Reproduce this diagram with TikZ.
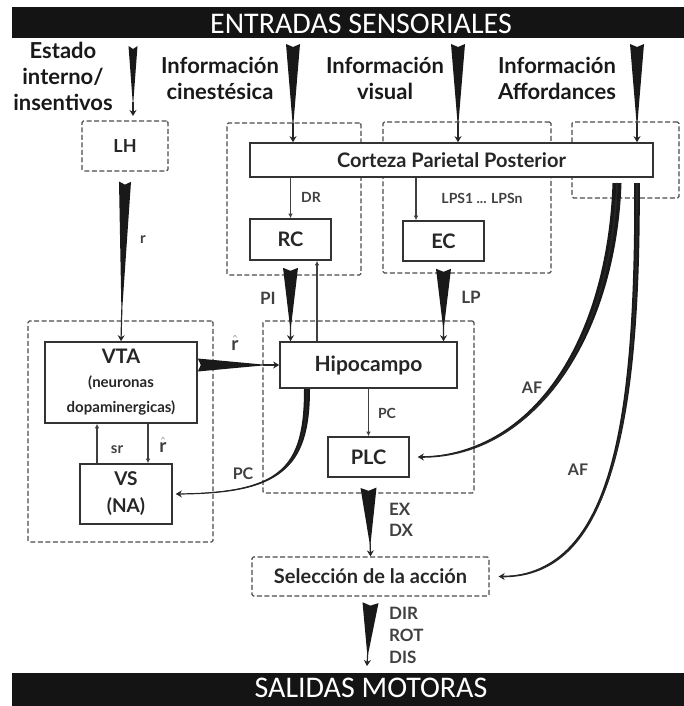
\documentclass[tikz,border=0pt]{standalone}
\usepackage{fontspec}
\setmainfont{Lato}
\newfontfamily\barfont{Carlito}
\usetikzlibrary{positioning, arrows.meta, calc}
\newcommand{\fs}[2]{\fontsize{#1}{#2}\selectfont}
\newcommand{\rhat}{$\hat{\mbox{\bfseries r}}$}
\newcommand{\wedgeflow}[3]{%
  \fill[black!90] ($(#1)!#3!90:(#2)$) -- ($(#1)!3pt!(#2)$) -- ($(#1)!#3!-90:(#2)$)
    -- ($(#1)!0.86!(#2)$) -- cycle;
  \draw[tip] ($(#1)!0.8!(#2)$) -- (#2);}
\tikzset{
  blk/.style={draw=black!80, line width=1.6pt, fill=white, align=center, inner sep=0pt,
    font=\bfseries\fs{20}{24}, text=black!85},
  grp/.style={draw=black!70, line width=1.3pt, dash pattern=on 5pt off 2.5pt,
    rounded corners=1.5pt, inner sep=0pt, align=center, font=\bfseries\fs{20}{24}, text=black!85},
  lbl/.style={font=\bfseries\fs{15}{19}, text=black!75, inner sep=0pt, align=left},
  hdr/.style={font=\bfseries\fs{22}{26}, align=center, text=black!90, inner sep=0pt},
  bar/.style={fill=black!92, draw=none, inner sep=0pt},
  bartxt/.style={font=\barfont\fs{30}{30}, text=white, inner sep=0pt},
  thin/.style={-{Latex[length=4.5pt,width=4.5pt]}, line width=1.2pt, draw=black!75},
  tip/.style={-{Stealth[length=6pt,width=7pt]}, line width=1.2pt, draw=black!85}
}

\begin{document}
\begin{tikzpicture}[x=1pt, y=-1pt]
\useasboundingbox (0,0) rectangle (684,706);
% black bars
\node[bar, minimum width=672pt, minimum height=31pt] (entbar) at (348,23) {};
\node[bartxt] (enttxt) at (361,24) {ENTRADAS SENSORIALES};
\node[bar, minimum width=672pt, minimum height=33pt] (salbar) at (348,689.5) {};
\node[bartxt] (saltxt) at (371,688) {SALIDAS MOTORAS};

% input headings
\node[hdr] (estado) at (63,76) {Estado\\interno/\\insentivos};
\node[hdr] (cine) at (220,78) {Información\\cinestésica};
\node[hdr] (visu) at (385,78) {Información\\visual};
\node[hdr] (affo) at (557,78) {Información\\Affordances};

% dashed groups
\node[grp, minimum width=86pt, minimum height=50pt, font=\bfseries\fs{18}{22}] (lh) at (125,146) {LH};
\node[grp, minimum width=134pt, minimum height=152pt] (grpkin) at (294,199) {};
\node[grp, minimum width=168pt, minimum height=151pt] (grpvis) at (467,197.5) {};
\node[grp, minimum width=107pt, minimum height=76pt] (grpaff) at (625.5,160) {};
\node[grp, minimum width=185pt, minimum height=221pt] (grpvta) at (120.5,431.5) {};
\node[grp, minimum width=211pt, minimum height=172pt] (grphip) at (368.5,407) {};
\node[grp, minimum width=237pt, minimum height=39pt] (sel) at (370.5,576.5) {Selección de la acción};

% solid boxes
\node[blk, minimum width=403pt, minimum height=34pt] (cpp) at (451.5,160) {Corteza Parietal Posterior};
\node[blk, minimum width=81pt, minimum height=41pt] (rc) at (290.5,239.5) {RC};
\node[blk, minimum width=81pt, minimum height=40pt] (ec) at (443.5,241) {EC};
\node[blk, minimum width=152pt, minimum height=81pt, font=\bfseries\fs{15}{25}] (vta) at (121,382.5)
  {{\fs{20}{24}VTA}\\[-1pt](neuronas\\dopaminergicas)};
\node[blk, minimum width=92pt, minimum height=60pt, font=\bfseries\fs{19}{27}] (vs) at (126,494) {VS\\(NA)};
\node[blk, minimum width=177pt, minimum height=46pt, font=\bfseries\fs{21}{24}] (hip) at (368.5,365) {Hipocampo};
\node[blk, minimum width=81pt, minimum height=40pt] (plc) at (368.5,457) {PLC};

% wide flows
\coordinate (estsrc) at (133,46);
\coordinate (estdst) at (133,116);
\coordinate (cinsrc) at (293,44);
\coordinate (vissrc) at (458,44);
\coordinate (affsrc) at (637,44);
\coordinate (dirend) at (367,666);
\wedgeflow{estsrc}{estdst}{4.5pt}
\wedgeflow{cinsrc}{cinsrc |- cpp.north}{7pt}
\wedgeflow{vissrc}{vissrc |- cpp.north}{7pt}
\wedgeflow{affsrc}{affsrc |- cpp.north}{7pt}
\wedgeflow{[yshift=-10pt]lh.south}{vta.north}{6pt}
\wedgeflow{[yshift=-7pt]rc.south}{rc.south |- hip.north}{7.5pt}
\wedgeflow{[yshift=-7pt]ec.south}{ec.south |- hip.north}{7.5pt}
\wedgeflow{[yshift=17.5pt]vta.east}{hip.west}{6.5pt}
\wedgeflow{[yshift=-10pt]plc.south}{sel.north}{8pt}
\wedgeflow{[yshift=-6pt]sel.south}{dirend}{8pt}

% thin flows
\coordinate (lpsx) at (416,0);
\coordinate (upx) at (317,0);
\coordinate (srx) at (97,0);
\coordinate (rdx) at (148,0);
\draw[thin] (rc.north |- cpp.south) -- (rc.north);
\draw[thin] (lpsx |- cpp.south) -- (lpsx |- ec.north);
\draw[thin] (upx |- hip.north) -- (upx |- rc.south);
\draw[thin] (srx |- vs.north) -- (srx |- vta.south);
\draw[thin] (rdx |- vta.south) -- (rdx |- vs.north);
\draw[thin] (plc.north |- hip.south) -- (plc.north);

% curved flows (tapered)
\coordinate (pcs) at (307,389);
\coordinate (pce) at ([xshift=3pt]vs.east);
\coordinate (af1s) at (617,183);
\coordinate (af1e) at ([xshift=8pt]plc.east);
\coordinate (af2s) at (637,183);
\coordinate (af2e) at ([xshift=9pt]sel.east);
\fill[black!90] ([xshift=-3pt]pcs) .. controls (304,470) and (280,492) .. (pce)
  .. controls (280,494) and (310,470) .. ([xshift=3pt]pcs) -- cycle;
\draw[tip] (pcs) .. controls (307,470) and (280,493) .. (pce);
\fill[black!90] ([xshift=-4.5pt]af1s) .. controls (607.5,330) and (540,454.5) .. (af1e)
  .. controls (540,459.5) and (616.5,330) .. ([xshift=4.5pt]af1s) -- cycle;
\draw[tip, line width=1.6pt] (af1s) .. controls (612,330) and (540,457) .. (af1e);
\fill[black!90] ([xshift=-2.8pt]af2s) .. controls (635.2,430) and (610,575.5) .. (af2e)
  .. controls (610,578.5) and (640.8,430) .. ([xshift=2.8pt]af2s) -- cycle;
\draw[tip, line width=1.6pt] (af2s) .. controls (638,430) and (610,577) .. (af2e);

% labels
\node[lbl] (rlab) at (143,240) {r};
\node[lbl, font=\bfseries\fs{14}{17}] (drlab) at (311,197) {DR};
\node[lbl, font=\bfseries\fs{14}{17}] (lpslab) at (482,198) {LPS1 ... LPSn};
\node[lbl, font=\bfseries\fs{17}{19}] (pilab) at (268,298) {PI};
\node[lbl, font=\bfseries\fs{17}{19}] (lplab) at (471,297) {LP};
\node[lbl, font=\bfseries\fs{19}{21}] (rhlab) at (235,343) {\rhat};
\node[lbl, font=\bfseries\fs{19}{21}] (rdlab) at (163,445) {\rhat};
\node[lbl] (srlab) at (117,450) {sr};
\node[lbl, font=\bfseries\fs{14}{17}] (pclab) at (387,413) {PC};
\node[lbl, font=\bfseries\fs{16}{19}] (pcvlab) at (243,474) {PC};
\node[lbl, font=\bfseries\fs{16}{19}] (af1lab) at (532,388) {AF};
\node[lbl, font=\bfseries\fs{16}{19}] (af2lab) at (578,470) {AF};
\node[lbl, anchor=west, font=\bfseries\fs{17}{21}] (exlab) at (389,520) {EX\\DX};
\node[lbl, anchor=west, font=\bfseries\fs{17}{22}] (dirlab) at (389,635) {DIR\\ROT\\DIS};
\end{tikzpicture}
\end{document}
